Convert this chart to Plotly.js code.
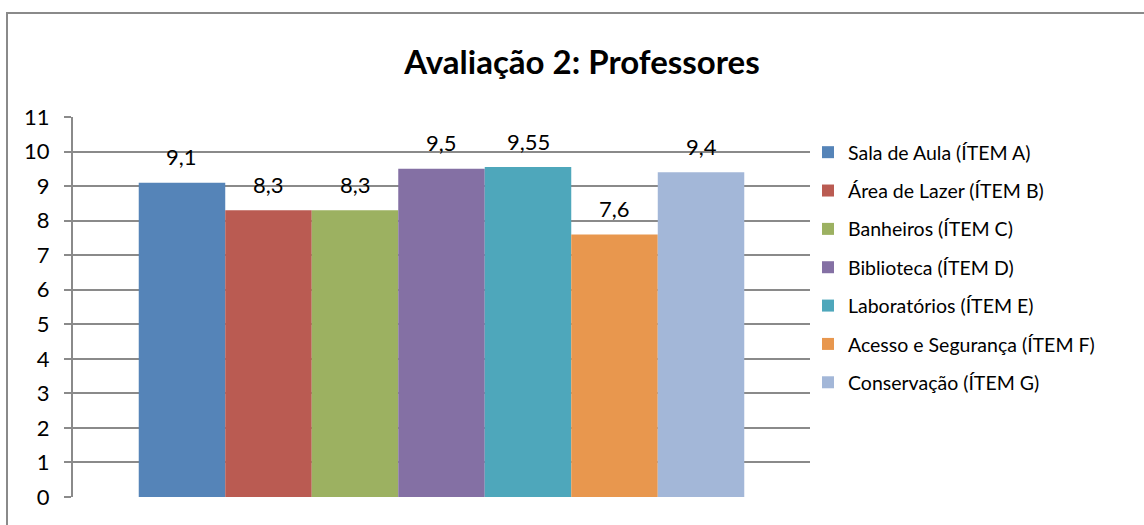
<!DOCTYPE html>
<html>
<head>
<meta charset="utf-8">
<script src="https://cdn.plot.ly/plotly-3.0.1.min.js"></script>
<style>html,body{margin:0;padding:0;background:#fff;}#chart{width:1144px;height:525px;}</style>
</head>
<body>
<div id="chart"></div>
<script>
const seriesNames = [
  "Sala de Aula (ÍTEM A)",
  "Área de Lazer (ÍTEM B)",
  "Banheiros (ÍTEM C)",
  "Biblioteca (ÍTEM D)",
  "Laboratórios (ÍTEM E)",
  "Acesso e Segurança (ÍTEM F)",
  "Conservação (ÍTEM G)"
];
const seriesValues = [9.1, 8.3, 8.3, 9.5, 9.55, 7.6, 9.4];
const seriesColors = ["#5584B8", "#BA5B52", "#9CB161", "#8470A4", "#4EA7BB", "#E8974E", "#A3B7D8"];
const yTicks = [0,1,2,3,4,5,6,7,8,9,10,11];
const chartTitle = "Avaliação 2: Professores";

const FONT = "Lato, 'Open Sans', sans-serif";
const fmt = v => String(v).replace('.', ',');

const traces = seriesNames.map((name, i) => ({
  type: 'bar',
  name: name,
  x: [i],
  y: [seriesValues[i]],
  width: [1],
  marker: {color: seriesColors[i], line: {width: 0}},
  legendgroup: 'g' + i,
  hoverinfo: 'skip'
}));

const annotations = seriesValues.map((v, i) => ({
  x: i, y: v, xref: 'x', yref: 'y',
  text: fmt(v), showarrow: false,
  yanchor: 'middle', yshift: 26,
  font: {family: FONT, size: 22, color: '#000'}
}));

const L = 73, R = 334, T = 117, B = 28;
const W = 1144 - L - R, H = 525 - T - B;

const layout = {
  width: 1144, height: 525,
  margin: {l: L, r: R, t: T, b: B, pad: 0},
  paper_bgcolor: '#fff', plot_bgcolor: '#fff',
  font: {family: FONT, color: '#000'},
  barmode: 'overlay',
  showlegend: true,
  title: {
    text: '<b>' + chartTitle + '</b>',
    font: {family: FONT, size: 33, color: '#000'},
    xref: 'container', x: 582/1144, xanchor: 'center',
    yref: 'container', y: 1 - 62/525, yanchor: 'middle'
  },
  xaxis: {
    range: [-1.26, 7.26], showticklabels: false, showgrid: false,
    zeroline: false, showline: false, ticks: '', fixedrange: true
  },
  yaxis: {
    range: [0, 11], tickvals: yTicks, ticktext: yTicks.map(String),
    showgrid: true, gridcolor: '#8a8a8a', gridwidth: 2,
    zeroline: false, showline: true, linecolor: '#8a8a8a', linewidth: 2,
    ticks: 'outside', ticklen: 7, tickwidth: 2, tickcolor: '#8a8a8a',
    tickfont: {family: FONT, size: 22, color: '#000'},
    ticklabelstandoff: 10
  },
  legend: {
    x: 1 + (808 - 810) / W, xanchor: 'left',
    y: 1 - (133 - T) / H, yanchor: 'top',
    font: {family: FONT, size: 19.5, color: '#000'},
    traceorder: 'grouped', tracegroupgap: 10,
    itemwidth: 30, bgcolor: 'rgba(0,0,0,0)'
  },
  annotations: annotations,
  shapes: [{
    type: 'rect', xref: 'paper', yref: 'paper',
    x0: (7 - L) / W, x1: 1.6,
    y0: -0.5, y1: (525 - B - 13) / H,
    line: {color: '#8a8a8a', width: 2}, fillcolor: 'rgba(0,0,0,0)', layer: 'above'
  }]
};

Plotly.newPlot('chart', traces, layout, {displayModeBar: false, staticPlot: true});
</script>
</body>
</html>
